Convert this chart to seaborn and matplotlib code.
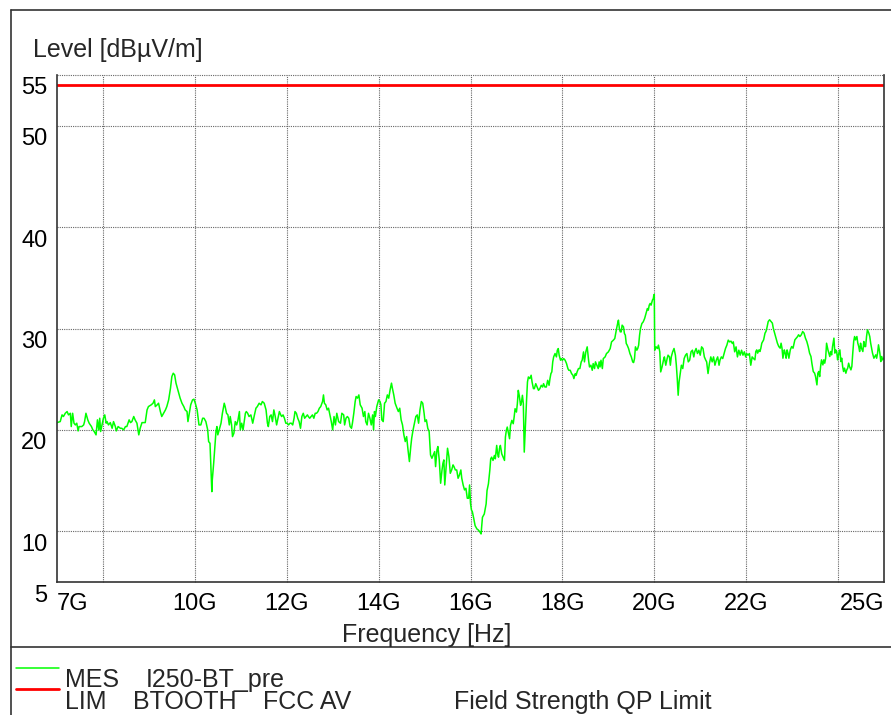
import numpy as np
import pandas as pd
import matplotlib
matplotlib.use('Agg')
import matplotlib.pyplot as plt
import matplotlib.transforms as mtransforms
from matplotlib.lines import Line2D
import seaborn as sns

# 1. 측정 데이터 (GHz, dBuV/m) - 그림에서 읽은 값
freq_a = [7.00, 7.07, 7.11, 7.14, 7.18, 7.22, 7.25, 7.29, 7.31, 7.34, 7.37, 7.40, 7.43, 7.46, 7.48, 7.54, 7.58, 7.60,
          7.63, 7.67, 7.70, 7.75, 7.78, 7.81, 7.85, 7.88, 7.91, 7.93, 7.95, 7.98, 8.01, 8.04, 8.07, 8.09, 8.12, 8.16,
          8.20, 8.23, 8.27, 8.29, 8.33, 8.38, 8.41, 8.45, 8.49, 8.52, 8.57, 8.60, 8.63, 8.67, 8.70, 8.74, 8.78, 8.81,
          8.85, 8.92, 8.96, 8.99, 9.05, 9.09, 9.12, 9.14, 9.18, 9.21, 9.25, 9.28, 9.32, 9.36, 9.39, 9.43, 9.47, 9.50,
          9.53, 9.56, 9.59, 9.63, 9.68, 9.72, 9.76, 9.79, 9.83, 9.85, 9.88, 9.91, 9.95, 9.98, 10.01, 10.05]
level_a = [20.72, 20.82, 21.48, 21.32, 21.64, 21.81, 21.48, 21.64, 20.33, 21.64, 20.66, 20.49, 20.66, 19.90, 20.33,
           20.33, 20.49, 20.82, 21.64, 20.99, 20.66, 20.33, 20.00, 19.84, 19.51, 20.99, 20.00, 21.15, 19.84, 20.49,
           21.15, 21.48, 20.66, 20.82, 20.49, 20.72, 20.16, 20.82, 20.33, 19.90, 20.33, 20.16, 20.16, 20.00, 20.33,
           20.33, 20.99, 20.72, 20.82, 21.32, 20.99, 20.66, 19.51, 20.16, 20.72, 20.72, 21.97, 22.30, 22.47, 22.63,
           22.96, 22.30, 22.47, 22.63, 21.81, 21.32, 21.64, 21.97, 22.30, 22.96, 24.11, 25.26, 25.59, 25.43, 24.61,
           23.95, 23.13, 22.63, 22.30, 21.97, 21.81, 20.82, 21.64, 22.47, 22.96, 23.03, 22.63, 21.97]

freq_b = [10.09, 10.13, 10.17, 10.20, 10.24, 10.28, 10.30, 10.33, 10.35, 10.37, 10.38, 10.41, 10.44, 10.46, 10.48,
          10.50, 10.53, 10.57, 10.60, 10.64, 10.66, 10.69, 10.72, 10.75, 10.77, 10.80, 10.82, 10.85, 10.88, 10.91,
          10.94, 10.97, 10.99, 11.02, 11.05, 11.10, 11.12, 11.15, 11.18, 11.22, 11.26, 11.29, 11.33, 11.36, 11.40,
          11.44, 11.47, 11.51, 11.55, 11.58, 11.60, 11.63, 11.66, 11.69, 11.72, 11.75, 11.78, 11.81, 11.84, 11.87,
          11.89, 11.92, 11.95, 11.98, 12.01, 12.04, 12.07, 12.10, 12.13, 12.16, 12.18, 12.21, 12.24, 12.27, 12.30,
          12.33, 12.36, 12.39, 12.42, 12.45, 12.47, 12.50, 12.53, 12.56, 12.59, 12.62, 12.65, 12.68, 12.71, 12.74,
          12.78, 12.80, 12.82, 12.85, 12.88, 12.91, 12.94, 12.97, 13.00, 13.03]
level_b = [20.49, 20.49, 21.15, 21.15, 20.82, 20.00, 18.85, 18.68, 16.38, 13.91, 15.07, 16.71, 18.68, 19.84, 20.33,
           19.51, 20.00, 20.66, 21.64, 22.63, 22.30, 21.64, 21.48, 20.49, 21.32, 20.49, 19.34, 19.67, 20.82, 20.49,
           20.99, 21.81, 20.00, 20.66, 20.00, 21.64, 21.81, 21.64, 21.32, 21.48, 20.66, 21.32, 22.14, 22.30, 22.63,
           22.47, 22.80, 22.63, 21.97, 20.66, 20.33, 21.32, 21.48, 20.82, 21.97, 21.32, 20.49, 21.15, 21.81, 21.48,
           21.32, 21.48, 21.15, 20.66, 20.66, 20.49, 20.66, 20.66, 20.49, 21.15, 21.81, 21.64, 21.15, 20.82, 20.16,
           21.32, 21.64, 21.15, 21.32, 21.48, 21.32, 21.15, 21.32, 21.48, 21.15, 21.64, 21.64, 21.81, 22.14, 22.30,
           22.80, 23.45, 22.63, 22.47, 21.97, 22.14, 21.48, 20.82, 20.00, 21.32]

freq_c = [13.06, 13.09, 13.13, 13.17, 13.20, 13.24, 13.26, 13.29, 13.32, 13.35, 13.38, 13.41, 13.43, 13.46, 13.49,
          13.51, 13.54, 13.57, 13.60, 13.64, 13.67, 13.70, 13.72, 13.75, 13.78, 13.81, 13.84, 13.87, 13.89, 13.91,
          13.93, 13.96, 13.98, 14.00, 14.03, 14.05, 14.07, 14.10, 14.13, 14.16, 14.19, 14.22, 14.25, 14.28, 14.30,
          14.33, 14.36, 14.40, 14.43, 14.46, 14.49, 14.52, 14.55, 14.58, 14.61, 14.64, 14.67, 14.70, 14.72, 14.75,
          14.78, 14.81, 14.84, 14.87, 14.90, 14.93, 14.96, 14.99, 15.01, 15.04, 15.07, 15.10, 15.13, 15.16, 15.19,
          15.22, 15.24, 15.27, 15.29, 15.32, 15.35, 15.38, 15.40, 15.42, 15.44, 15.47, 15.50, 15.53, 15.56, 15.59,
          15.62, 15.64, 15.67, 15.70, 15.73, 15.76, 15.79, 15.81, 15.84, 15.87, 15.90, 15.93, 15.96, 15.98, 16.00,
          16.02, 16.04, 16.07]
level_c = [20.49, 21.64, 20.82, 20.66, 21.64, 21.48, 20.49, 21.15, 21.32, 21.15, 20.33, 20.16, 20.66, 21.64, 22.80,
           23.29, 23.13, 23.45, 22.47, 22.14, 21.32, 21.81, 20.82, 20.49, 21.64, 21.15, 20.49, 21.48, 20.00, 21.81,
           21.32, 22.30, 22.63, 22.96, 22.80, 22.47, 20.99, 20.82, 22.63, 22.80, 23.45, 23.13, 23.95, 24.61, 24.11,
           23.45, 22.63, 22.14, 21.81, 22.14, 20.99, 20.49, 19.51, 18.85, 19.34, 18.03, 16.88, 18.36, 19.18, 20.00,
           20.66, 21.32, 21.48, 20.66, 21.97, 22.80, 22.63, 21.64, 20.82, 20.99, 20.16, 19.84, 17.53, 17.20, 17.53,
           17.86, 16.38, 18.03, 18.36, 17.04, 14.74, 16.05, 16.71, 17.04, 14.57, 16.38, 18.19, 17.37, 15.72, 16.05,
           16.55, 16.38, 16.05, 16.05, 15.23, 15.56, 16.05, 15.23, 14.57, 14.08, 14.24, 13.26, 13.26, 14.57, 12.76,
           12.11, 11.94, 11.28]

freq_d = [16.10, 16.14, 16.17, 16.21, 16.23, 16.26, 16.30, 16.34, 16.36, 16.39, 16.42, 16.44, 16.46, 16.49, 16.52,
          16.54, 16.57, 16.59, 16.61, 16.63, 16.65, 16.68, 16.71, 16.74, 16.76, 16.78, 16.80, 16.83, 16.85, 16.87,
          16.90, 16.93, 16.95, 16.97, 17.00, 17.02, 17.04, 17.06, 17.09, 17.11, 17.13, 17.15, 17.17, 17.20, 17.22,
          17.24, 17.26, 17.29, 17.32, 17.34, 17.37, 17.39, 17.42, 17.45, 17.48, 17.51, 17.54, 17.57, 17.59, 17.62,
          17.65, 17.68, 17.71, 17.73, 17.75, 17.77, 17.79, 17.81, 17.84, 17.87, 17.89, 17.91, 17.93, 17.96, 17.98,
          18.00, 18.03, 18.06, 18.09, 18.12, 18.14, 18.17, 18.20, 18.23, 18.25, 18.28, 18.30, 18.32, 18.35, 18.38,
          18.41, 18.43, 18.46, 18.48, 18.51, 18.54, 18.57, 18.59, 18.62, 18.65, 18.67, 18.70, 18.72, 18.75, 18.78,
          18.80, 18.82, 18.84, 18.87, 18.89, 18.93, 18.96, 19.00, 19.04, 19.07, 19.11, 19.14]
level_d = [10.56, 10.23, 10.13, 9.90, 9.74, 11.38, 11.71, 12.70, 14.02, 14.68, 16.00, 17.15, 17.31, 16.99, 17.48,
           17.15, 18.47, 17.64, 17.31, 18.14, 18.47, 17.64, 17.31, 16.99, 19.29, 19.95, 20.28, 19.62, 19.13, 20.44,
           20.94, 20.61, 21.27, 22.09, 21.76, 22.59, 23.90, 23.41, 22.42, 22.75, 23.41, 22.59, 17.81, 20.94, 22.92,
           24.73, 25.22, 25.06, 25.39, 24.73, 24.07, 24.07, 24.56, 24.23, 23.90, 24.07, 24.40, 24.23, 24.56, 24.23,
           24.23, 24.89, 24.40, 25.06, 25.55, 25.72, 26.71, 27.20, 27.53, 27.20, 27.86, 28.02, 27.36, 26.87, 27.03,
           26.87, 27.03, 26.87, 26.54, 26.05, 25.88, 25.88, 25.55, 25.39, 25.06, 25.55, 25.39, 25.72, 26.05, 26.05,
           26.71, 26.87, 27.69, 26.71, 27.69, 28.19, 26.87, 26.21, 26.38, 25.88, 26.54, 26.05, 26.71, 26.38, 26.05,
           26.71, 26.21, 26.87, 26.05, 27.03, 27.20, 27.53, 27.69, 28.02, 28.68, 28.85, 29.01]

freq_e = [19.18, 19.21, 19.22, 19.24, 19.26, 19.28, 19.30, 19.33, 19.35, 19.37, 19.39, 19.41, 19.44, 19.47, 19.50,
          19.53, 19.55, 19.57, 19.59, 19.62, 19.64, 19.66, 19.68, 19.70, 19.73, 19.76, 19.79, 19.82, 19.85, 19.87,
          19.89, 19.91, 19.93, 19.96, 19.98, 19.99, 20.00, 20.01, 20.04, 20.07, 20.09, 20.12, 20.14, 20.17, 20.20,
          20.22, 20.25, 20.28, 20.30, 20.33, 20.35, 20.37, 20.40, 20.43, 20.46, 20.48, 20.50, 20.52, 20.54, 20.57,
          20.59, 20.62, 20.65, 20.68, 20.71, 20.74, 20.77, 20.80, 20.83, 20.86, 20.88, 20.91, 20.94, 20.97, 21.00,
          21.03, 21.06, 21.09, 21.12, 21.14, 21.17, 21.20, 21.23, 21.26, 21.29, 21.32, 21.35, 21.38, 21.41, 21.43,
          21.46, 21.49, 21.52, 21.55, 21.58, 21.61, 21.64, 21.67, 21.70, 21.72, 21.75, 21.78, 21.81, 21.84, 21.87,
          21.90, 21.93, 21.96, 21.99, 22.01, 22.04, 22.07, 22.10, 22.13, 22.16]
level_e = [30.00, 30.66, 30.82, 30.00, 29.67, 29.67, 30.33, 30.16, 29.51, 29.34, 28.52, 28.36, 28.03, 27.53, 27.20,
           26.71, 26.64, 27.04, 28.19, 27.86, 28.03, 28.36, 29.34, 30.00, 30.49, 30.66, 30.99, 31.48, 31.97, 31.81,
           32.30, 32.47, 32.30, 32.80, 32.96, 33.29, 33.36, 27.86, 28.19, 28.03, 28.36, 27.70, 25.72, 26.22, 26.88,
           27.20, 26.38, 27.04, 27.37, 27.20, 26.38, 27.20, 27.70, 28.03, 27.37, 26.38, 25.07, 23.42, 24.74, 25.72,
           26.38, 26.05, 27.04, 27.37, 27.53, 26.71, 26.88, 27.70, 27.86, 27.20, 27.70, 28.03, 27.53, 27.86, 27.37,
           28.19, 28.03, 27.20, 26.88, 26.71, 25.56, 26.55, 27.20, 26.71, 27.20, 26.38, 26.88, 27.20, 26.38, 26.88,
           27.20, 27.04, 27.53, 28.03, 28.36, 28.85, 28.68, 28.75, 28.52, 28.68, 27.70, 28.19, 27.20, 27.86, 27.37,
           27.86, 27.37, 27.70, 27.20, 27.53, 27.37, 27.53, 26.38, 27.20, 27.04]

freq_f = [22.19, 22.21, 22.23, 22.25, 22.28, 22.30, 22.32, 22.34, 22.36, 22.38, 22.41, 22.43, 22.45, 22.48, 22.51,
          22.54, 22.57, 22.59, 22.62, 22.65, 22.68, 22.71, 22.74, 22.76, 22.78, 22.80, 22.83, 22.85, 22.87, 22.89,
          22.91, 22.93, 22.96, 22.99, 23.02, 23.06, 23.09, 23.12, 23.14, 23.17, 23.20, 23.23, 23.26, 23.29, 23.32,
          23.35, 23.38, 23.41, 23.43, 23.46, 23.49, 23.51, 23.54, 23.56, 23.58, 23.60, 23.62, 23.64, 23.67, 23.69,
          23.71, 23.73, 23.75, 23.78, 23.80, 23.82, 23.84, 23.86, 23.88, 23.91, 23.93, 23.95, 23.97, 23.99, 24.01,
          24.04, 24.06, 24.08, 24.10, 24.12, 24.14, 24.17, 24.19, 24.21, 24.23, 24.25, 24.28, 24.30, 24.32, 24.34,
          24.36, 24.38, 24.41, 24.43, 24.45, 24.47, 24.49, 24.51, 24.54, 24.56, 24.58, 24.60, 24.62, 24.64, 24.67,
          24.69, 24.71, 24.73, 24.75, 24.78, 24.80, 24.82, 24.84, 24.86, 24.88, 24.91, 24.93, 24.95, 24.97, 25.00]
level_f = [26.91, 27.73, 27.89, 27.57, 27.89, 27.73, 28.06, 28.55, 28.72, 28.88, 29.54, 29.70, 30.03, 30.69, 30.86,
           30.69, 30.53, 30.03, 29.54, 29.05, 28.55, 28.22, 28.06, 28.55, 28.06, 27.07, 27.89, 27.57, 27.07, 27.89,
           27.57, 27.07, 27.89, 28.22, 28.06, 28.88, 29.05, 29.21, 29.38, 29.21, 29.38, 29.70, 29.54, 29.05, 28.72,
           28.22, 27.57, 27.24, 26.58, 25.76, 25.59, 25.26, 24.44, 25.59, 25.76, 25.26, 26.25, 26.91, 26.41, 26.91,
           26.58, 27.07, 28.55, 27.89, 27.57, 27.24, 27.73, 27.40, 28.22, 29.05, 27.57, 27.89, 27.73, 26.91, 27.40,
           27.89, 26.74, 27.07, 26.25, 25.76, 26.09, 25.59, 25.92, 26.09, 26.58, 26.25, 25.92, 26.25, 27.57, 28.72,
           29.21, 28.88, 29.21, 28.55, 28.22, 27.73, 28.55, 28.06, 27.73, 28.72, 28.22, 28.22, 29.21, 29.87, 29.54,
           29.21, 28.55, 28.06, 27.57, 27.07, 27.24, 27.40, 27.07, 27.57, 28.39, 27.57, 26.74, 27.24, 26.91, 27.10]

# 한계선 (FCC AV)
limit_freq = [7.0, 25.0]
limit_level = [54.0, 54.0]

x_ticks = [7, 10, 12, 14, 16, 18, 20, 22, 25]
x_labels = ['7G', '10G', '12G', '14G', '16G', '18G', '20G', '22G', '25G']
x_grid = [8, 10, 12, 14, 16, 18, 20, 22, 24]
y_ticks = [5, 10, 20, 30, 40, 50, 55]
y_grid = [10, 20, 30, 40, 50, 55]

df = pd.DataFrame({
    'freq': np.concatenate([freq_a, freq_b, freq_c, freq_d, freq_e, freq_f]),
    'level': np.concatenate([level_a, level_b, level_c, level_d, level_e, level_f]),
})
df_lim = pd.DataFrame({'freq': limit_freq, 'level': limit_level})

# 2. 스타일
sns.set_style('white')
plt.rcParams['font.family'] = ['Liberation Sans', 'DejaVu Sans']

W, H = 891, 715
fig = plt.figure(figsize=(W / 100, H / 100), dpi=100)
ax = fig.add_axes([57 / W, 1 - 582 / H, 827 / W, 507 / H])

# 점선 격자 (눈금 위치와 별개)
grid_kw = dict(color='#666666', linestyle=(0, (1, 1)), lw=0.8, zorder=1, clip_on=False)
ax.vlines(x_grid, 5, 55, **grid_kw)
ax.hlines(y_grid, 7, 25, **grid_kw)

sns.lineplot(data=df, x='freq', y='level', ax=ax, color='#00ff00', lw=1.1,
             estimator=None, sort=False, zorder=3)
sns.lineplot(data=df_lim, x='freq', y='level', ax=ax, color='#ff0000', lw=2.0,
             estimator=None, zorder=4)

ax.set_xlim(7, 25)
ax.set_ylim(5, 55)
ax.set_xlabel('')
ax.set_ylabel('')
ax.grid(False)

ax.set_xticks(x_ticks)
ax.set_xticklabels(x_labels)
ax.set_yticks(y_ticks)
ax.set_yticklabels([str(v) for v in y_ticks])
ax.tick_params(which='both', length=0, labelsize=17, colors='black')
ax.tick_params(axis='x', pad=8)
ax.tick_params(axis='y', pad=7)

for side in ['left', 'bottom', 'right']:
    ax.spines[side].set_color('#333333')
    ax.spines[side].set_linewidth(1.2)
    ax.spines[side].set_zorder(5)
ax.spines['top'].set_visible(False)

# 틱 라벨 위치 보정
xl = ax.get_xticklabels()
xl[0].set_ha('left')
xl[-1].set_ha('right')
shift = mtransforms.ScaledTranslation(0, -11 / 100, fig.dpi_scale_trans)
for lab in ax.get_yticklabels():
    lab.set_transform(lab.get_transform() + shift)

# 축 제목
fig.text(33 / W, 1 - 57 / H, 'Level [dBµV/m]', fontsize=18, va='baseline')
fig.text(342 / W, 1 - 642 / H, 'Frequency [Hz]', fontsize=18, va='baseline')

# 외곽선
frame_kw = dict(color='#333333', lw=1.2, transform=fig.transFigure)
fig.add_artist(Line2D([11 / W, 11 / W], [0, 1 - 10 / H], **frame_kw))
fig.add_artist(Line2D([11 / W, 1], [1 - 10 / H, 1 - 10 / H], **frame_kw))
fig.add_artist(Line2D([11 / W, 1], [1 - 647 / H, 1 - 647 / H], **frame_kw))

# 범례
fig.add_artist(Line2D([16 / W, 59 / W], [1 - 668 / H, 1 - 668 / H], color='#00ff00', lw=1.1,
                      transform=fig.transFigure))
fig.add_artist(Line2D([16 / W, 59 / W], [1 - 689 / H, 1 - 689 / H], color='#ff0000', lw=2.0,
                      transform=fig.transFigure))
fig.text(65 / W, 1 - 687 / H, 'MES', fontsize=18, va='baseline')
fig.text(146 / W, 1 - 687 / H, 'I250-BT_pre', fontsize=18, va='baseline')
fig.text(65 / W, 1 - 709 / H, 'LIM', fontsize=18, va='baseline')
fig.text(133 / W, 1 - 709 / H, 'BTOOTH', fontsize=18, va='baseline')
fig.text(263 / W, 1 - 709 / H, 'FCC AV', fontsize=18, va='baseline')
fig.text(454 / W, 1 - 709 / H, 'Field Strength QP Limit', fontsize=18, va='baseline')

fig.savefig('out.png', dpi=100)
plt.close(fig)
